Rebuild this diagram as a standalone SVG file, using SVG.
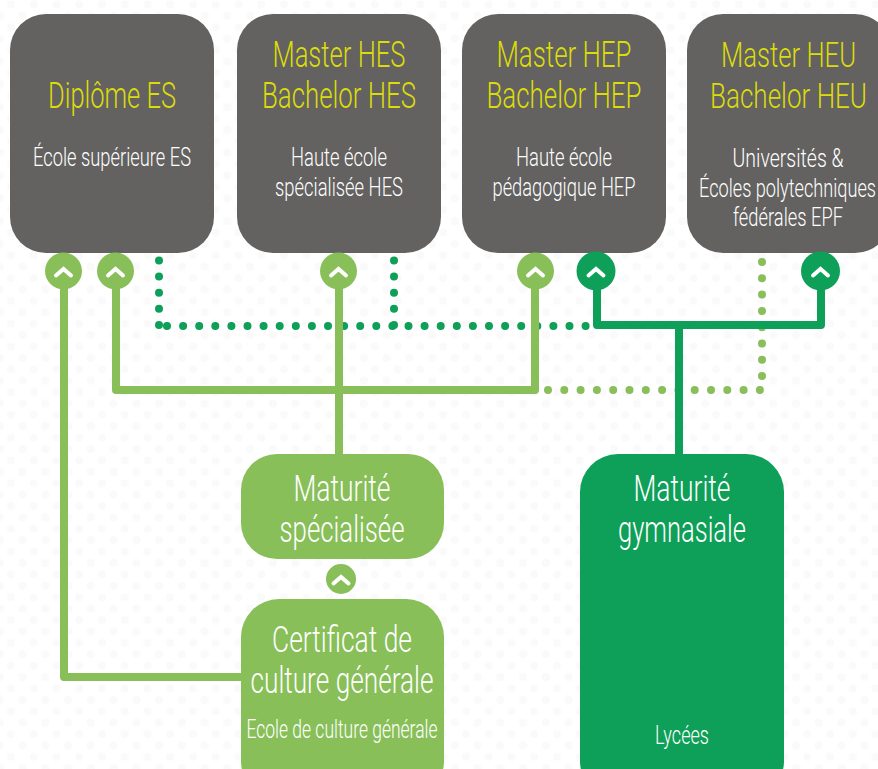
<svg xmlns="http://www.w3.org/2000/svg" width="878" height="769" viewBox="0 0 878 769">
<style>
text{font-family:"Roboto","Liberation Sans",sans-serif;font-weight:300;text-anchor:middle}
.t{font-size:36px;fill:#dcdc0a}
.s{font-size:25px;fill:#fff}
.w{font-size:37px;fill:#fff}
.g{fill:#636260}
.lg{fill:#88bf59}
.dg{fill:#0e9f58}
.ll{fill:none;stroke:#88bf59;stroke-width:8;stroke-linejoin:round;stroke-linecap:round}
.dl{fill:none;stroke:#0e9f58;stroke-width:8;stroke-linejoin:round;stroke-linecap:round}
.ld{fill:none;stroke:#88bf59;stroke-width:8;stroke-linecap:round;stroke-dasharray:0 16.3}
.dd{fill:none;stroke:#0e9f58;stroke-width:8;stroke-linecap:round;stroke-dasharray:0 16.1}
.ch{fill:none;stroke:#fff;stroke-width:4;stroke-linecap:round;stroke-linejoin:miter}
</style>
<defs>
<pattern id="bgd" width="22.75" height="22.8" patternUnits="userSpaceOnUse">
<circle cx="11" cy="4.4" r="4" fill="#fafafa"/>
<circle cx="22.4" cy="15.8" r="4" fill="#fafafa"/>
<circle cx="0" cy="15.8" r="4" fill="#fafafa"/>
</pattern>
<path id="chev" class="ch" d="M-7.5 3.5L0-3L7.500 3.5"/>
</defs>
<rect width="878" height="769" fill="#fff"/>
<rect width="878" height="769" fill="url(#bgd)"/>
<g id="connectors">
<path class="dd" d="M159 260.500V326"/>
<path class="dd" d="M394 260.500V326"/>
<path class="dd" d="M167 326H590"/>
<path class="ld" d="M762 262V390"/>
<path class="ld" d="M548 390H762"/>
<path class="ll" d="M64 271V677H245"/>
<path class="ll" d="M116 271V390H535V271"/>
<path class="ll" d="M339 271V458"/>
<path class="dl" d="M597 271V325H821V271"/>
<path class="dl" d="M679 325V458"/>
</g>
<g id="node-es">
<rect class="g" x="10" y="14" width="204" height="239" rx="36"/>
<text class="t" x="112" y="108" textLength="128" lengthAdjust="spacingAndGlyphs">Diplôme ES</text>
<text class="s" x="112" y="166" textLength="158" lengthAdjust="spacingAndGlyphs">École supérieure ES</text>
</g>
<g id="node-hes">
<rect class="g" x="237" y="14" width="204" height="239" rx="36"/>
<text class="t" x="339" y="67" textLength="133" lengthAdjust="spacingAndGlyphs">Master HES</text>
<text class="t" x="339" y="108" textLength="154" lengthAdjust="spacingAndGlyphs">Bachelor HES</text>
<text class="s" x="339" y="166" textLength="96" lengthAdjust="spacingAndGlyphs">Haute école</text>
<text class="s" x="339" y="196" textLength="128" lengthAdjust="spacingAndGlyphs">spécialisée HES</text>
</g>
<g id="node-hep">
<rect class="g" x="462" y="14" width="204" height="239" rx="36"/>
<text class="t" x="564" y="67" textLength="135" lengthAdjust="spacingAndGlyphs">Master HEP</text>
<text class="t" x="564" y="108" textLength="155" lengthAdjust="spacingAndGlyphs">Bachelor HEP</text>
<text class="s" x="564" y="166" textLength="96" lengthAdjust="spacingAndGlyphs">Haute école</text>
<text class="s" x="564" y="196" textLength="143" lengthAdjust="spacingAndGlyphs">pédagogique HEP</text>
</g>
<g id="node-heu">
<rect class="g" x="687" y="14" width="204" height="239" rx="36"/>
<text class="t" transform="translate(788.500 67) scale(.72 1)" textLength="187.500" lengthAdjust="spacingAndGlyphs">Master HEU</text>
<text class="t" transform="translate(788.500 108) scale(.72 1)" textLength="218" lengthAdjust="spacingAndGlyphs">Bachelor HEU</text>
<text class="s" transform="translate(788 167) scale(.78 1)" textLength="142.300" lengthAdjust="spacingAndGlyphs">Universités &amp;</text>
<text class="s" transform="translate(787.500 197) scale(.7 1)" textLength="252.800" lengthAdjust="spacingAndGlyphs">Écoles polytechniques</text>
<text class="s" transform="translate(788 226) scale(.78 1)" textLength="141" lengthAdjust="spacingAndGlyphs">fédérales EPF</text>
</g>
<g id="node-ms">
<rect class="lg" x="241" y="454" width="203" height="105" rx="36"/>
<text class="w" x="342" y="501" textLength="97" lengthAdjust="spacingAndGlyphs">Maturité</text>
<text class="w" x="342" y="542" textLength="125" lengthAdjust="spacingAndGlyphs">spécialisée</text>
</g>
<g id="node-ccg">
<rect class="lg" x="241" y="599" width="203" height="200" rx="38"/>
<text class="w" x="342" y="652" textLength="140" lengthAdjust="spacingAndGlyphs">Certificat de</text>
<text class="w" x="342" y="693" textLength="183" lengthAdjust="spacingAndGlyphs">culture générale</text>
<text class="s" x="342" y="738" textLength="191" lengthAdjust="spacingAndGlyphs">Ecole de culture générale</text>
</g>
<g id="node-mg">
<rect class="dg" x="580" y="454" width="204" height="345" rx="38"/>
<text class="w" x="682" y="501" textLength="97" lengthAdjust="spacingAndGlyphs">Maturité</text>
<text class="w" x="682" y="542" textLength="128" lengthAdjust="spacingAndGlyphs">gymnasiale</text>
<text class="s" x="682" y="744" textLength="54" lengthAdjust="spacingAndGlyphs">Lycées</text>
</g>
<g id="arrows">
<circle class="lg" cx="63.500" cy="271" r="18.500"/><use href="#chev" x="63.500" y="272"/>
<circle class="lg" cx="115.500" cy="271" r="18.500"/><use href="#chev" x="115.500" y="272"/>
<circle class="lg" cx="338.500" cy="271" r="18.500"/><use href="#chev" x="338.500" y="272"/>
<circle class="lg" cx="535.500" cy="271" r="18.500"/><use href="#chev" x="535.500" y="272"/>
<circle class="dg" cx="596" cy="271" r="19.500"/><use href="#chev" x="596" y="272"/>
<circle class="dg" cx="820.500" cy="271" r="19.500"/><use href="#chev" x="820.500" y="272"/>
<circle class="lg" cx="341" cy="579" r="15"/><use href="#chev" x="341" y="580"/>
</g>
</svg>
